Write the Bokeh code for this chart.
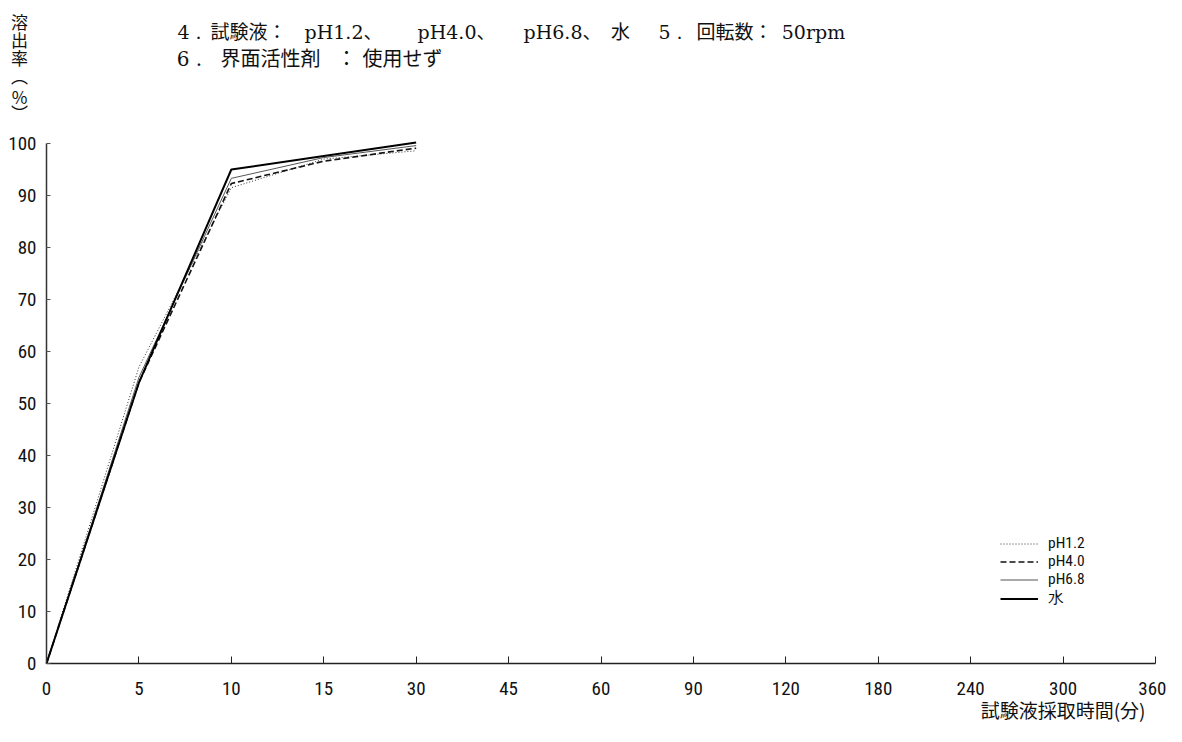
from bokeh.plotting import figure
from bokeh.models import FixedTicker, Label, Legend, LegendItem, ColumnDataSource, Range1d
from bokeh.embed import file_html
from bokeh.resources import INLINE

# ---- data ----
time_labels = ["0", "5", "10", "15", "30", "45", "60", "90", "120", "180", "240", "300", "360"]
sample_times = ["0", "5", "10", "15", "30"]
ph12 = [0, 57.0, 91.5, 97.0, 98.6]
ph40 = [0, 54.0, 92.3, 96.6, 99.1]
ph68 = [0, 55.0, 93.3, 97.3, 99.6]
water = [0, 54.0, 95.0, 97.6, 100.2]
y_ticks = [0, 10, 20, 30, 40, 50, 60, 70, 80, 90, 100]
series_names = ["pH1.2", "pH4.0", "pH6.8", "水"]

# header text, split into the pieces that are spaced out in the reference
header_line4 = ["4 .", "試験液：", "pH1.2、", "pH4.0、", "pH6.8、", "水", "5 .", "回転数：", "50rpm"]
header_line6 = ["6 .", "界面活性剤", "：", "使用せず"]
y_label_chars = ["溶", "出", "率", "︵", "%", "︶"]
x_title = "試験液採取時間(分)"

SANS = "Liberation Sans Narrow, Roboto Condensed, Liberation Sans, sans-serif"
SERIF = "DejaVu Serif, Noto Sans CJK JP, serif"
CJK = "Noto Sans CJK JP"

W, H = 1166, 726
# picture-pixel positions of the axis extremes in the reference
FX0, FX1 = 46, 1155     # x = first / last category
FY0, FY1 = 663, 143     # y = 0 / 100
nx = len(time_labels) - 1


def dx(px):
    return (px - FX0) / (FX1 - FX0) * nx


def dy(py):
    return (FY0 - py) / (FY0 - FY1) * 100


x_range = Range1d(dx(0), dx(W))
y_range = Range1d(dy(H), dy(0))

p = figure(width=W, height=H, output_backend="svg", toolbar_location=None,
           x_range=x_range, y_range=y_range,
           min_border_left=0, min_border_right=0, min_border_top=0, min_border_bottom=0)
p.outline_line_color = None
p.grid.visible = False
p.background_fill_color = "white"

xpos = [time_labels.index(t) for t in sample_times]

styles = [
    dict(line_color="#333333", line_width=1.0, line_dash="1 2"),
    dict(line_color="#111111", line_width=1.6, line_dash="6 3"),
    dict(line_color="#555555", line_width=1.0),
    dict(line_color="#000000", line_width=2.0),
]
renderers = []
for vals, st in zip([ph12, ph40, ph68, water], styles):
    src = ColumnDataSource(dict(x=xpos, y=vals))
    renderers.append(p.line("x", "y", source=src, **st))

legend = Legend(items=[LegendItem(label=n, renderers=[r]) for n, r in zip(series_names, renderers)],
                location=(1000, 117), orientation="vertical")
legend.border_line_alpha = 0
legend.background_fill_alpha = 0
legend.padding = 0
legend.margin = 0
legend.spacing = 0
legend.glyph_width = 38
legend.glyph_height = 15
legend.label_height = 15
legend.label_standoff = 10
legend.label_text_font = SANS
legend.label_text_font_size = "15.5px"
legend.label_text_line_height = 0.85
legend.label_text_color = "#111111"
p.add_layout(legend, "center")

# axes, drawn at data positions with bounded extent
xa = p.xaxis[0]
xa.fixed_location = 0
xa.bounds = (0, nx)
xa.ticker = FixedTicker(ticks=list(range(len(time_labels))))
xa.major_label_overrides = {i: t for i, t in enumerate(time_labels)}
xa.major_tick_in = 7
xa.major_tick_out = 0
xa.minor_tick_line_color = None
xa.major_label_standoff = 18
xa.major_label_text_font = SANS
xa.major_label_text_font_size = "19px"
xa.major_label_text_color = "#111111"
xa.axis_line_width = 1.5
xa.axis_line_color = "#222222"
xa.major_tick_line_color = "#222222"

ya = p.yaxis[0]
ya.fixed_location = 0
ya.bounds = (0, 100)
ya.ticker = FixedTicker(ticks=y_ticks)
ya.major_tick_in = 4
ya.major_tick_out = 0
ya.minor_tick_line_color = None
ya.major_label_standoff = 10
ya.major_label_text_font = SANS
ya.major_label_text_font_size = "19px"
ya.major_label_text_color = "#111111"
ya.axis_line_width = 1.5
ya.axis_line_color = "#333333"
ya.major_tick_line_color = "#555555"


def add_text(txt, px, py, font, size, align="left"):
    p.add_layout(Label(x=dx(px), y=dy(py), text=txt, text_font=font,
                       text_font_size=size, text_baseline="middle", text_align=align,
                       text_color="#111111"))


for seg, px in zip(header_line4, [189, 248, 343, 456, 562, 620, 670, 734, 813]):
    add_text(seg, px, 31, SERIF, "19px", align="center")
for seg, px in zip(header_line6, [189, 270, 346, 402]):
    add_text(seg, px, 58, SERIF, "20px", align="center")

for ch, py in zip(y_label_chars, [21, 39, 57, 75, 96, 112]):
    add_text(ch, 19, py, CJK, "17px", align="center")

add_text(x_title, 1145, 709, CJK, "19px", align="right")

open("out.html", "w").write(file_html(p, INLINE))
